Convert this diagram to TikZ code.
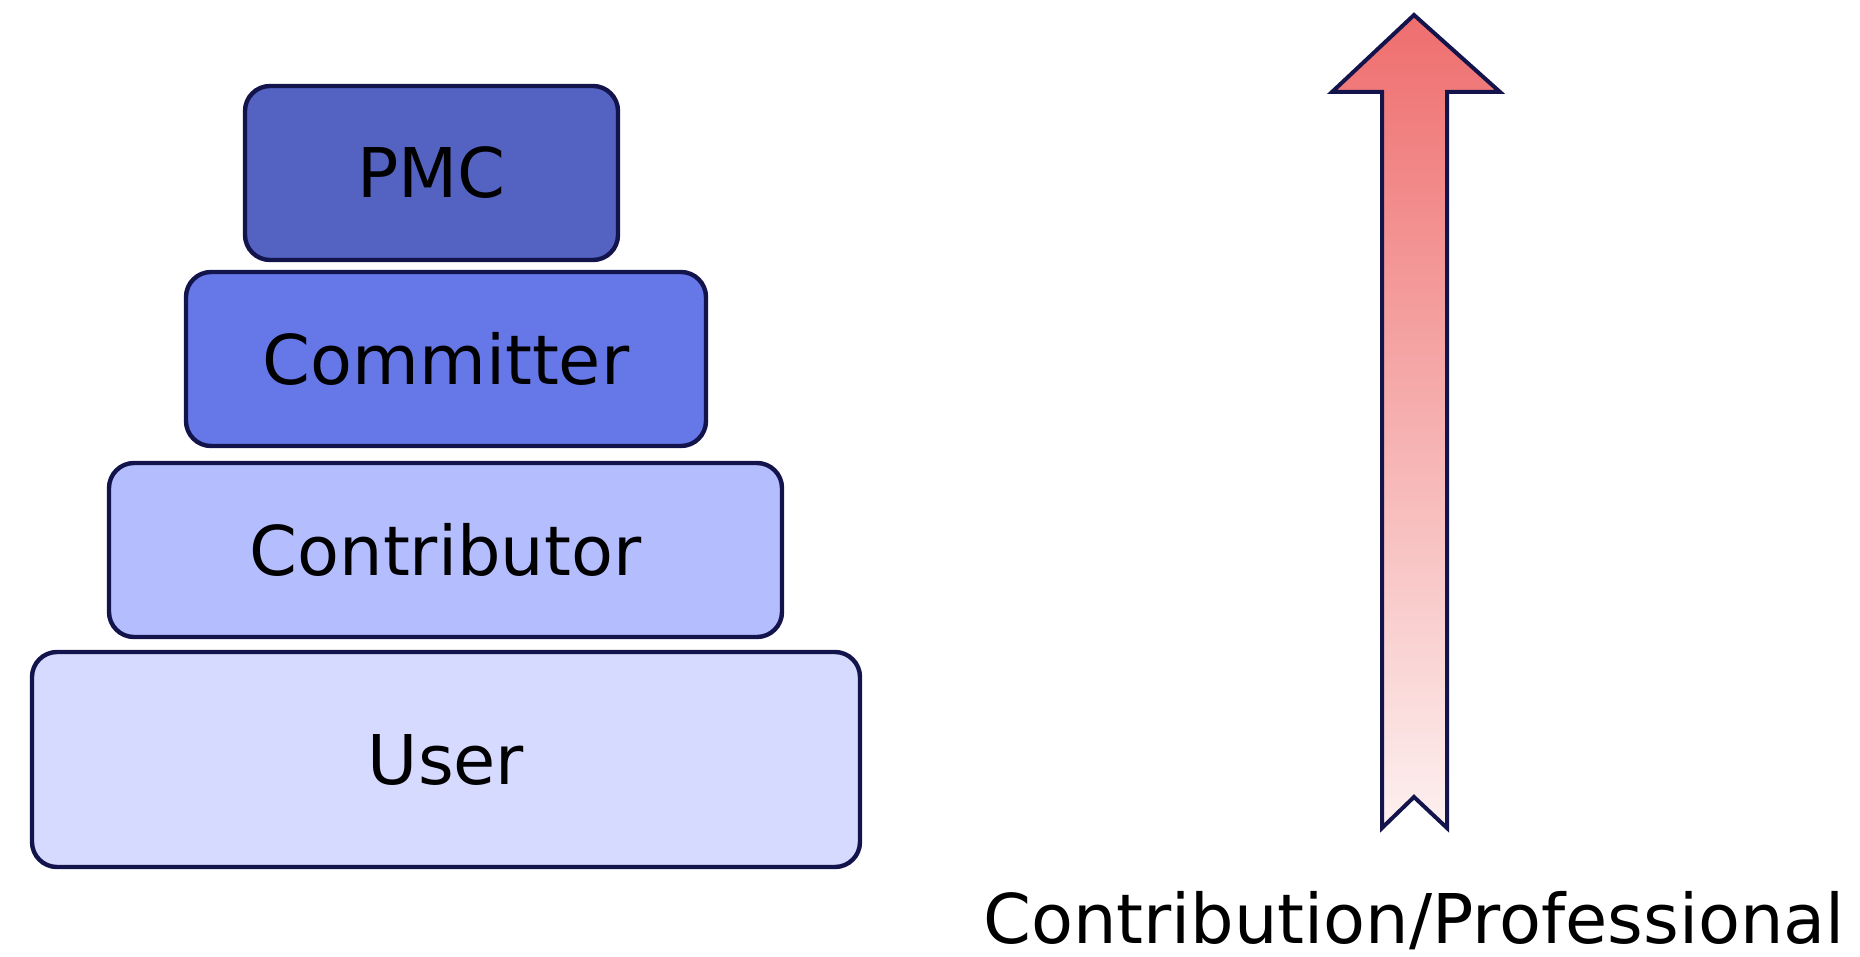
\documentclass[tikz,border=0pt]{standalone}
\usepackage{fontspec}
\setmainfont{DejaVu Sans}
\usetikzlibrary{positioning}
\definecolor{pmcblue}{RGB}{84,98,194}
\definecolor{commblue}{RGB}{102,120,232}
\definecolor{contblue}{RGB}{180,190,255}
\definecolor{userblue}{RGB}{214,218,255}
\definecolor{edgeblue}{RGB}{20,20,76}
\definecolor{arrowred}{RGB}{239,110,110}
\definecolor{arrowpale}{RGB}{253,240,240}
\begin{document}
\begin{tikzpicture}[x=0.5pt,y=-0.5pt,every node/.style={font=\fontsize{34.3}{40}\selectfont},
  tier/.style={line width=2.2pt, draw=edgeblue, rectangle, rounded corners=12.5pt, minimum height=87pt, align=center}]
\useasboundingbox (0,0) rectangle (1860,957);
\node[tier, fill=userblue, minimum width=414pt, minimum height=107.5pt] (user) at (446,759.5) {User};
\node[tier, fill=contblue, minimum width=336.5pt] (contrib) at ([shift={(-0.5,-209.5)}]user) {Contributor};
\node[tier, fill=commblue, minimum width=260pt] (committer) at ([shift={(0.5,-191)}]contrib) {Committer};
\node[tier, fill=pmcblue, minimum width=186.5pt] (pmc) at ([shift={(-14.5,-186)}]committer) {PMC};
\shadedraw[draw=edgeblue, line width=2pt, top color=arrowred, bottom color=arrowpale]
  (1414,15) -- (1500,92) -- (1447,92) -- (1447,828) -- (1414,797) -- (1382,828) -- (1382,92) -- (1332,92) -- cycle;
\node[anchor=base] (scale) at (1414,943) {Contribution/Professional};
\end{tikzpicture}
\end{document}
